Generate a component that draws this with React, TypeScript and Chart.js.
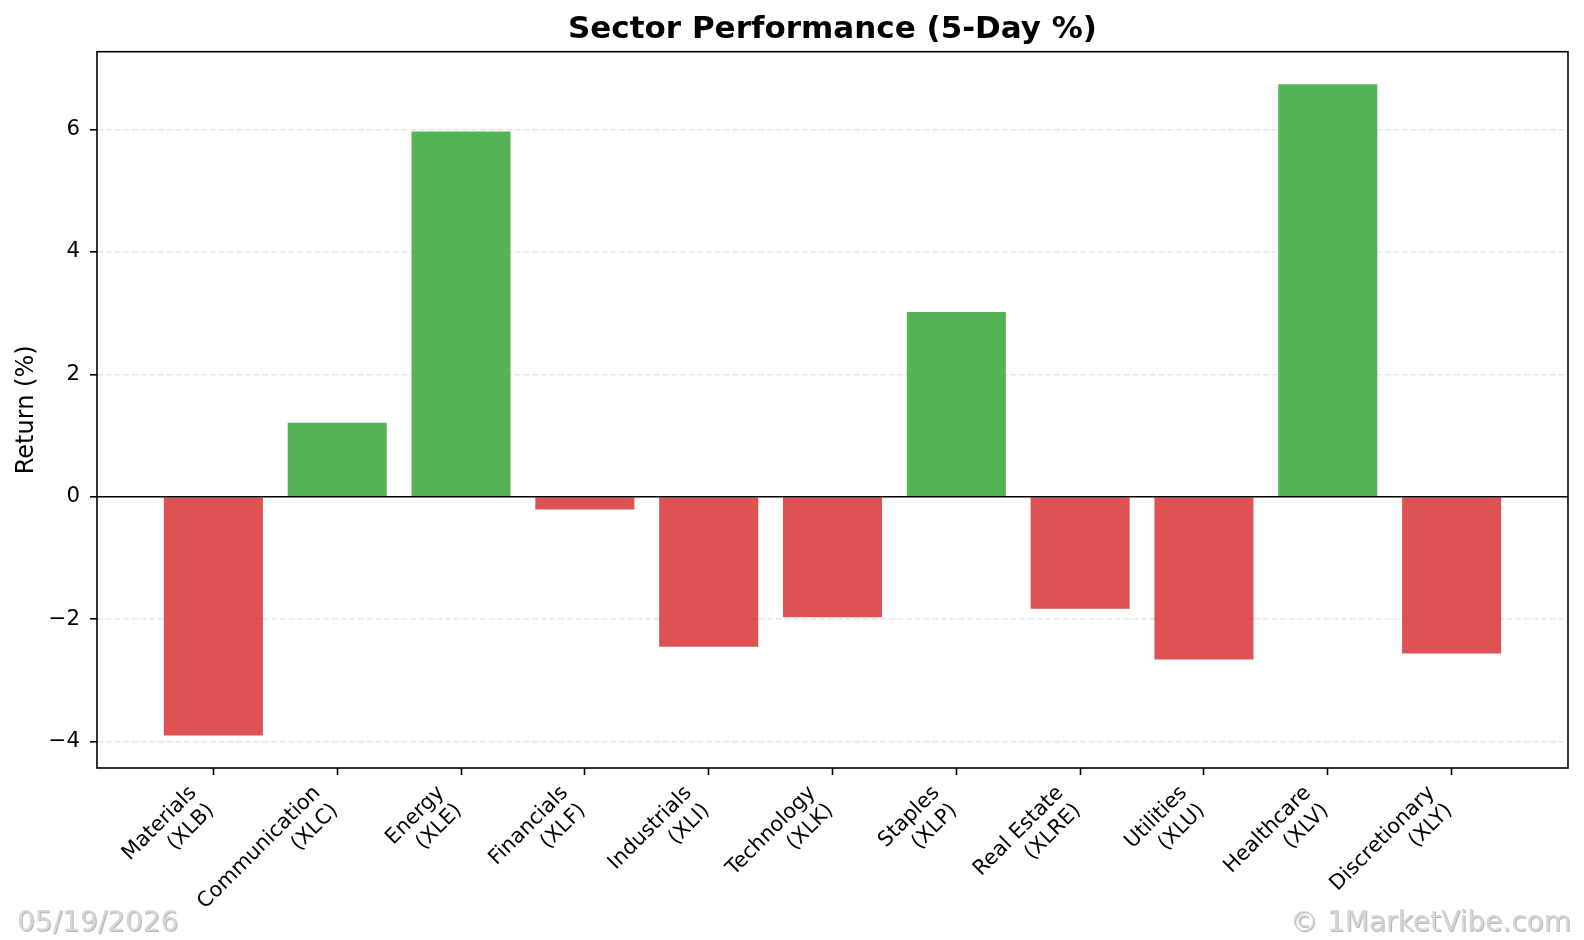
import { useEffect, useRef } from "react";
import { Chart, registerables } from "chart.js";

Chart.register(...registerables);

// Sector ETFs and their 5-day returns (%)
const sectors = [
  "Materials",
  "Communication",
  "Energy",
  "Financials",
  "Industrials",
  "Technology",
  "Staples",
  "Real Estate",
  "Utilities",
  "Healthcare",
  "Discretionary",
];
const tickers = ["XLB", "XLC", "XLE", "XLF", "XLI", "XLK", "XLP", "XLRE", "XLU", "XLV", "XLY"];
const returns5d = [-3.9, 1.21, 5.97, -0.21, -2.45, -1.97, 3.02, -1.83, -2.66, 6.74, -2.56];
const yTicks = [-4, -2, 0, 2, 4, 6];
const asOfDate = "05/19/2026";
const credit = "© 1MarketVibe.com";

const FONT = "'DejaVu Sans', 'Liberation Sans', sans-serif";
const UP = "rgba(44,160,44,0.8)";
const DOWN = "rgba(214,39,40,0.8)";

// 5% padding around the data limits (bars start at zero)
const lo = Math.min(0, ...returns5d);
const hi = Math.max(0, ...returns5d);
const yMin = lo - (hi - lo) * 0.05;
const yMax = hi + (hi - lo) * 0.05;
const xSpan = sectors.length - 1 + 0.8;
const xMin = -0.4 - xSpan * 0.05;
const xMax = sectors.length - 1 + 0.4 + xSpan * 0.05;

const framePlugin = {
  id: "frame",
  afterDatasetsDraw(chart: any) {
    const { ctx, chartArea, scales } = chart;
    const y0 = scales.y.getPixelForValue(0);
    ctx.save();
    ctx.strokeStyle = "#000";
    ctx.lineWidth = 1.6;
    ctx.beginPath();
    ctx.moveTo(chartArea.left, y0);
    ctx.lineTo(chartArea.right, y0);
    ctx.stroke();
    ctx.strokeRect(chartArea.left, chartArea.top, chartArea.right - chartArea.left, chartArea.bottom - chartArea.top);
    ctx.restore();
  },
};

const stampPlugin = {
  id: "stamp",
  afterDraw(chart: any) {
    const { ctx, width } = chart;
    ctx.save();
    ctx.font = `28px ${FONT}`;
    ctx.textBaseline = "alphabetic";
    const drawStamp = (text: string, x: number, align: CanvasTextAlign) => {
      ctx.textAlign = align;
      ctx.fillStyle = "rgba(150,150,150,0.7)";
      ctx.fillText(text, x + 1, 931 + 1);
      ctx.fillStyle = "#d6d6d6";
      ctx.fillText(text, x, 931);
    };
    drawStamp(asOfDate, 17, "left");
    drawStamp(credit, width - 13, "right");
    ctx.restore();
  },
};

export default function App() {
  const canvasRef = useRef<HTMLCanvasElement | null>(null);

  useEffect(() => {
    const canvas = canvasRef.current;
    if (!canvas) return;
    Chart.defaults.color = "#000";
    Chart.defaults.font.family = FONT;

    const chart = new Chart(canvas, {
      type: "bar",
      data: {
        datasets: [
          {
            data: returns5d.map((v, i) => ({ x: i, y: v })),
            backgroundColor: returns5d.map((v) => (v >= 0 ? UP : DOWN)),
            borderWidth: 0,
            barPercentage: 0.8,
            categoryPercentage: 1,
          },
        ],
      },
      options: {
        animation: false,
        responsive: false,
        devicePixelRatio: 1,
        layout: { padding: { left: 0, right: 16, top: 0, bottom: 0 } },
        plugins: {
          legend: { display: false },
          tooltip: { enabled: false },
          title: {
            display: true,
            fullSize: false,
            text: "Sector Performance (5-Day %)",
            color: "#000",
            font: { family: FONT, size: 31, weight: "bold" },
            padding: { top: 11.5, bottom: 3 },
          },
        },
        scales: {
          x: {
            type: "linear",
            offset: false,
            min: xMin,
            max: xMax,
            afterBuildTicks: (axis: any) => {
              axis.ticks = sectors.map((_, i) => ({ value: i }));
            },
            afterFit: (scale: any) => {
              scale.height = 172;
            },
            grid: {
              offset: false,
              drawOnChartArea: false,
              drawTicks: true,
              tickLength: 7,
              tickColor: "#000",
              tickWidth: 1.6,
            },
            border: { display: false },
            ticks: {
              autoSkip: false,
              minRotation: 45,
              maxRotation: 45,
              padding: 6,
              labelOffset: -20,
              color: "#000",
              font: { family: FONT, size: 20.8 },
              callback: (value: any) => {
                const i = Math.round(Number(value));
                return [sectors[i], `(${tickers[i]})`];
              },
            },
          },
          y: {
            type: "linear",
            min: yMin,
            max: yMax,
            afterBuildTicks: (axis: any) => {
              axis.ticks = yTicks.map((v) => ({ value: v }));
            },
            afterFit: (scale: any) => {
              scale.width = 97;
            },
            grid: {
              color: "rgba(176,176,176,0.3)",
              lineWidth: 1.6,
              tickLength: 7,
              tickColor: "#000",
              tickWidth: 1.6,
            },
            border: { display: false, dash: [6, 2.7] },
            title: {
              display: true,
              text: "Return (%)",
              color: "#000",
              font: { family: FONT, size: 24 },
              padding: { top: 12, bottom: 0 },
            },
            ticks: {
              padding: 10,
              color: "#000",
              font: { family: FONT, size: 21.3 },
              callback: (value: any) => {
                const n = Number(value);
                return n < 0 ? `\u2212${Math.abs(n)}` : `${n}`;
              },
            },
          },
        },
      },
      plugins: [framePlugin, stampPlugin],
    } as any);

    return () => chart.destroy();
  }, []);

  return (
    <div style={{ position: "absolute", left: 0, top: 0, width: 1584, height: 940, background: "#fff" }}>
      <canvas ref={canvasRef} width={1584} height={940} />
    </div>
  );
}
